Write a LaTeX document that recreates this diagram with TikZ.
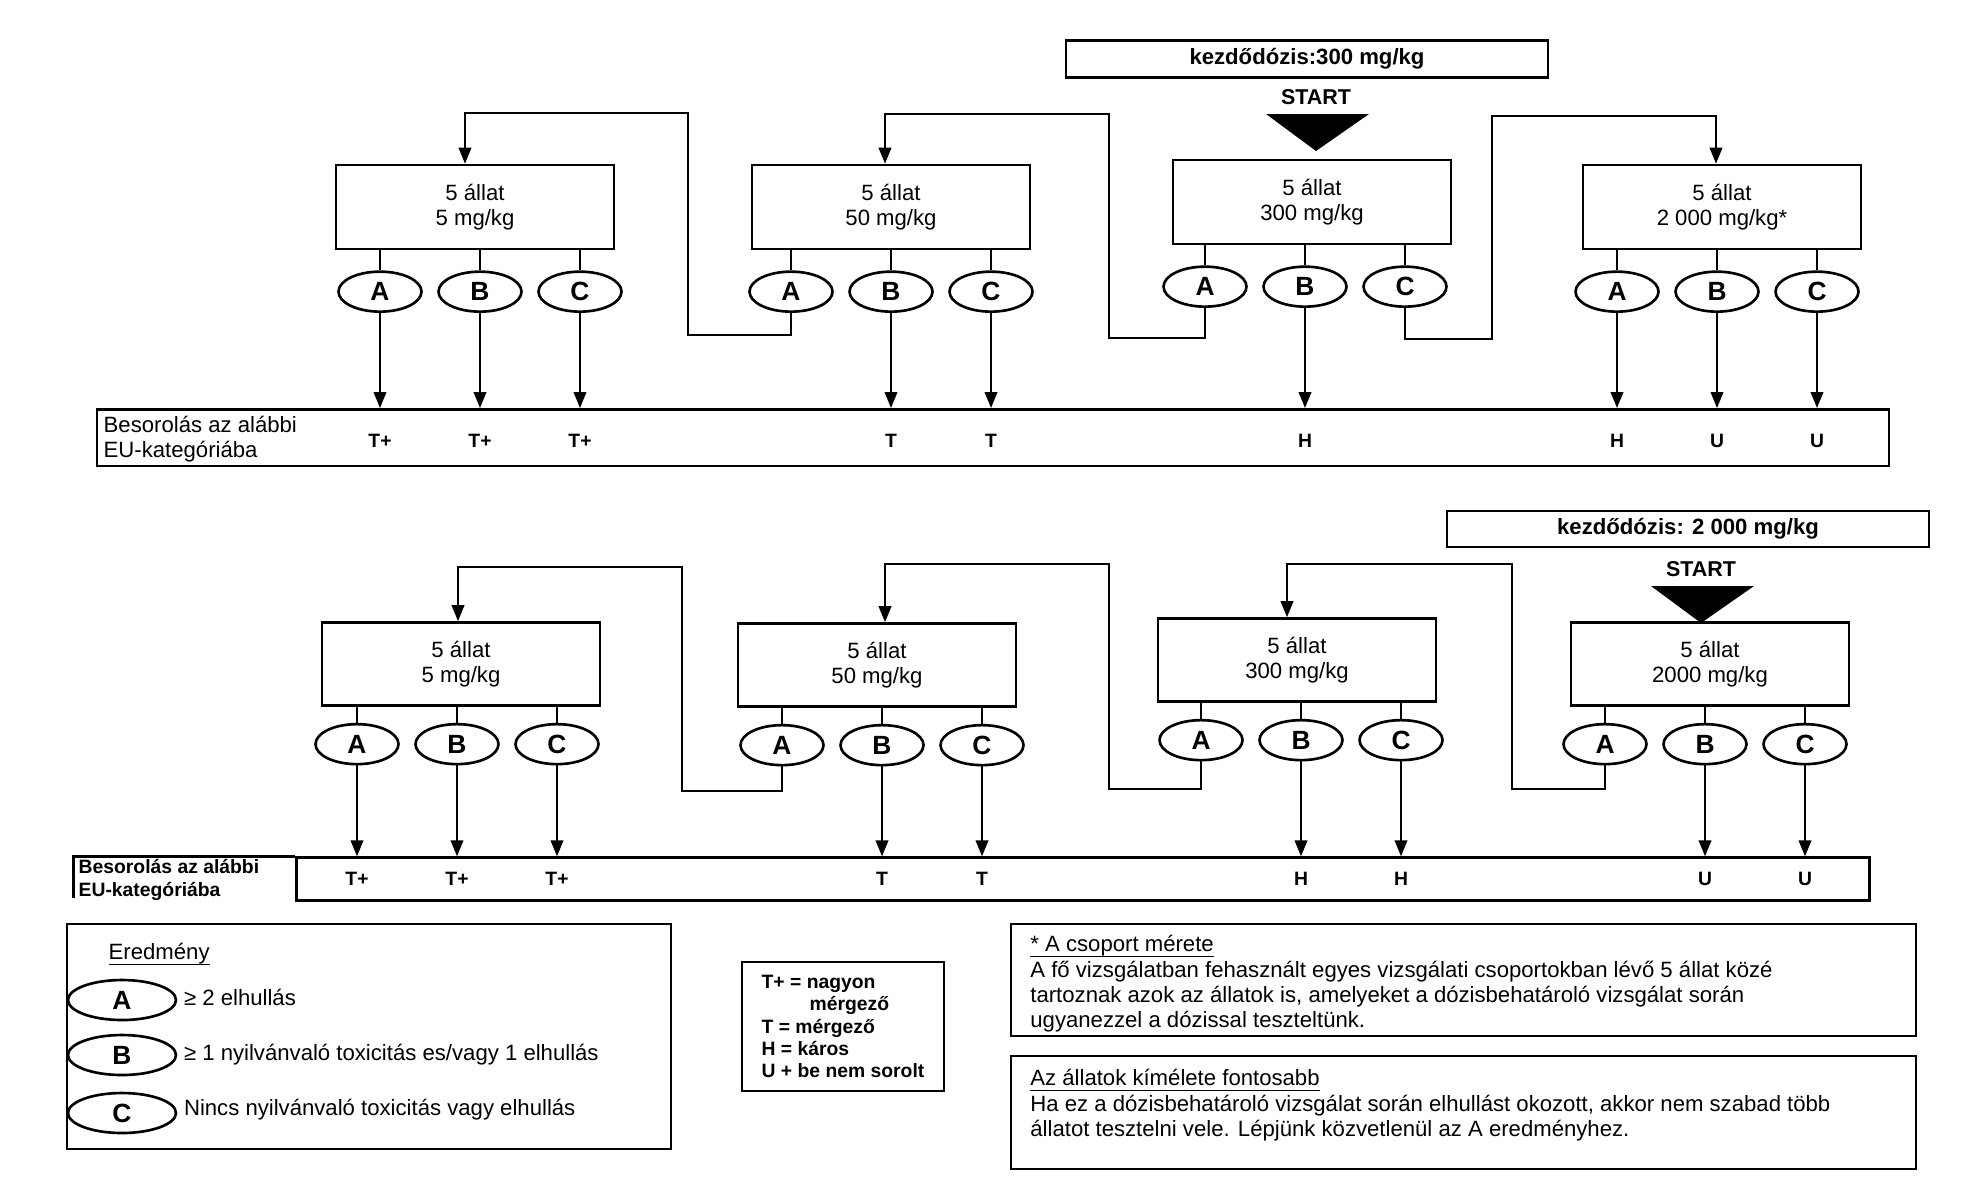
\documentclass[tikz,border=0pt]{standalone}
\usepackage{fontspec}
\setmainfont{Liberation Sans}
\usepackage{tikz}
\usetikzlibrary{positioning, arrows.meta, shapes.geometric, calc}
% aláhúzás a betűk mélysége nélkül
\newcommand{\alahuz}[1]{\underline{\raisebox{0pt}[\height][0pt]{#1}}}
\tikzset{
	>={Triangle[length=1.6mm, width=1.25mm]},
	% adagolási csoport (doboz)
	doboz/.style={draw, line width=0.75pt, rectangle, minimum width=2.78cm, minimum height=0.84cm,
	              align=center, inner sep=1pt, font=\fontsize{6.3}{7.1}\selectfont},
	% eredmény (ellipszis)
	eredm/.style={draw, line width=0.75pt, ellipse, minimum width=0.83cm, minimum height=0.40cm,
	              inner sep=0pt, font=\bfseries\fontsize{7.5}{8}\selectfont},
	% kezdődózis felirat
	kezd/.style={draw, line width=0.75pt, rectangle, minimum width=4.82cm, minimum height=0.37cm,
	             inner sep=0pt, font=\bfseries\fontsize{6.3}{7}\selectfont},
	startfel/.style={inner sep=0pt, font=\bfseries\fontsize{6.1}{7}\selectfont},
	% besorolási sáv
	sav/.style={draw, line width=0.75pt, rectangle, inner sep=0pt},
	kat/.style={inner sep=0pt, font=\bfseries\fontsize{5.5}{6}\selectfont},
	% nyilak, vonalak
	nyil/.style={->, line width=0.6pt},
	vonal/.style={line width=0.6pt},
	% magyarázó szöveg
	szoveg/.style={inner sep=0pt, align=left, anchor=west, font=\fontsize{6.3}{7.2}\selectfont},
}

\begin{document}
\begin{tikzpicture}
    \useasboundingbox (0,0) rectangle (19.69,-11.97);
    % kezdődózis: 300 mg/kg
    \node[kezd] (k1) at (13.07,-0.59) {kezdődózis:300 mg/kg};
    \node[startfel] (s1) at (13.16,-0.97) {START};
    \fill ($(s1)+(-0.5,-0.17)$) -- ++(1.03,0) -- ($(s1)+(0,-0.54)$) -- cycle;
    % dózisszintek
    \node[doboz] (t1) at (4.75,-2.07)  {5 állat\\5 mg/kg};
    \node[doboz] (t2) at (8.91,-2.07)  {5 állat\\50 mg/kg};
    \node[doboz] (t3) at (13.12,-2.02) {5 állat\\300 mg/kg};
    \node[doboz] (t4) at (17.22,-2.07) {5 állat\\2 000 mg/kg*};
    % eredmények
    \foreach \n/\dx in {t1/0.05, t2/0, t3/-0.07, t4/-0.05} {
      \node[eredm, below=0.2cm of \n, xshift=(\dx-1)*1cm] (\n A) {A};
      \node[eredm, below=0.2cm of \n, xshift=\dx*1cm]     (\n B) {B};
      \node[eredm, below=0.2cm of \n, xshift=(\dx+1)*1cm] (\n C) {C};
      \foreach \e in {A,B,C}
        \draw[vonal] (\n\e.north) -- (\n\e.north |- \n.south);
    }
    % visszalépés kisebb dózisra, továbblépés nagyobb dózisra
    \draw[nyil] (t2A.south) |- (6.88,-3.35) |- ([xshift=-1mm,yshift=5.1mm]t1.north) -- ([xshift=-1mm]t1.north);
    \draw[nyil] (t3A.south) |- (11.09,-3.38) |- ([xshift=-0.6mm,yshift=5mm]t2.north) -- ([xshift=-0.6mm]t2.north);
    \draw[nyil] (t3C.south) |- (14.92,-3.39) |- ([xshift=-0.6mm,yshift=4.8mm]t4.north) -- ([xshift=-0.6mm]t4.north);
    % besorolás
    \node[sav, minimum width=17.92cm, minimum height=0.565cm] (sav1) at (9.93,-4.376) {};
    \node[szoveg, font=\fontsize{6.3}{7.1}\selectfont] at (1.03,-4.39) {Besorolás az alábbi\\EU-kategóriába};
    \foreach \e/\k in {t1A/T+, t1B/T+, t1C/T+, t2B/T, t2C/T, t3B/H, t4A/H, t4B/U, t4C/U} {
      \draw[nyil] (\e.south) -- (\e.south |- sav1.north);
      \node[kat, yshift=-0.3mm] at (\e.south |- sav1.center) {\k};
    }

    % kezdődózis: 2 000 mg/kg
    \node[kezd, minimum height=0.36cm] (k2) at (16.88,-5.29) {kezdődózis: 2 000 mg/kg};
    \node[startfel] (s2) at (17.01,-5.69) {START};
    \fill ($(s2)+(-0.5,-0.17)$) -- ++(1.03,0) -- ($(s2)+(0,-0.54)$) -- cycle;
    % dózisszintek
    \node[doboz, minimum height=0.83cm] (b1) at (4.61,-6.64)  {5 állat\\5 mg/kg};
    \node[doboz, minimum height=0.83cm] (b2) at (8.77,-6.65)  {5 állat\\50 mg/kg};
    \node[doboz, minimum height=0.83cm] (b3) at (12.97,-6.60) {5 állat\\300 mg/kg};
    \node[doboz, minimum height=0.83cm] (b4) at (17.10,-6.64) {5 állat\\2000 mg/kg};
    % eredmények
    \foreach \n/\dx in {b1/-0.04, b2/0.05, b3/0.04, b4/-0.05} {
      \node[eredm, below=0.16cm of \n, xshift=(\dx-1)*1cm] (\n A) {A};
      \node[eredm, below=0.16cm of \n, xshift=\dx*1cm]     (\n B) {B};
      \node[eredm, below=0.16cm of \n, xshift=(\dx+1)*1cm] (\n C) {C};
      \foreach \e in {A,B,C}
        \draw[vonal] (\n\e.north) -- (\n\e.north |- \n.south);
    }
    % visszalépés kisebb dózisra
    \draw[nyil] (b2A.south) |- (6.82,-7.91) |- ([xshift=-0.3mm,yshift=5.4mm]b1.north) -- ([xshift=-0.3mm]b1.north);
    \draw[nyil] (b3A.south) |- (11.09,-7.89) |- ([xshift=0.8mm,yshift=5.8mm]b2.north) -- ([xshift=0.8mm]b2.north);
    \draw[nyil] (b4A.south) |- (15.12,-7.89) |- ([xshift=-1mm,yshift=5.3mm]b3.north) -- ([xshift=-1mm]b3.north);
    % besorolás
    \node[sav, minimum width=15.73cm, minimum height=0.427cm] (sav2) at (10.83,-8.79) {};
    \draw[line width=0.75pt] (sav2.north west) -- ++(-2.22,0) -- ++(0,-0.42);
    \node[szoveg, font=\bfseries\fontsize{5.5}{6.4}\selectfont] at (0.78,-8.80) {Besorolás az alábbi\\EU-kategóriába};
    \foreach \e/\k in {b1A/T+, b1B/T+, b1C/T+, b2B/T, b2C/T, b3B/H, b3C/H, b4B/U, b4C/U} {
      \draw[nyil] (\e.south) -- (\e.south |- sav2.north);
      \node[kat] at (\e.south |- sav2.center) {\k};
    }

    % jelmagyarázat: eredmény
    \node[draw, line width=0.75pt, minimum width=6.04cm, minimum height=2.25cm] (ered) at (3.69,-10.365) {};
    \node[szoveg] at (1.08,-9.55) {\alahuz{Eredmény}};
    \node[eredm, minimum width=1.08cm] (lA) at (1.22,-10.00) {A};
    \node[eredm, minimum width=1.08cm] (lB) at (1.22,-10.55) {B};
    \node[eredm, minimum width=1.08cm] (lC) at (1.22,-11.13) {C};
    \node[szoveg, right=0.6mm of lA, yshift=0.3mm] {≥ 2 elhullás};
    \node[szoveg, right=0.6mm of lB] {≥ 1 nyilvánvaló toxicitás es/vagy 1 elhullás};
    \node[szoveg, right=0.6mm of lC, yshift=0.3mm] {Nincs nyilvánvaló toxicitás vagy elhullás};
    % jelmagyarázat: kategóriák
    \node[draw, line width=0.75pt, minimum width=2.02cm, minimum height=1.29cm, align=left, inner sep=0pt,
          font=\bfseries\fontsize{5.5}{6.3}\selectfont] (jel) at (8.43,-10.265)
          {T+ = nagyon\\\hspace*{0.48cm}mérgező\\T = mérgező\\H = káros\\U + be nem sorolt};
    % megjegyzések
    \node[draw, line width=0.75pt, minimum width=9.05cm, minimum height=1.12cm] (megj1) at (14.635,-9.80) {};
    \node[szoveg, anchor=north west] at ($(megj1.north west)+(0.2,-0.12)$)
          {\alahuz{* A csoport mérete}\\
           A fő vizsgálatban fehasznált egyes vizsgálati csoportokban lévő 5 állat közé\\
           tartoznak azok az állatok is, amelyeket a dózisbehatároló vizsgálat során\\
           ugyanezzel a dózissal teszteltünk.};
    \node[draw, line width=0.75pt, minimum width=9.05cm, minimum height=1.13cm] (megj2) at (14.635,-11.125) {};
    \node[szoveg, anchor=north west] at ($(megj2.north west)+(0.2,-0.14)$)
          {\alahuz{Az állatok kímélete fontosabb}\\
           Ha ez a dózisbehatároló vizsgálat során elhullást okozott, akkor nem szabad több\\
           állatot tesztelni vele. Lépjünk közvetlenül az A eredményhez.};
\end{tikzpicture}
\end{document}
